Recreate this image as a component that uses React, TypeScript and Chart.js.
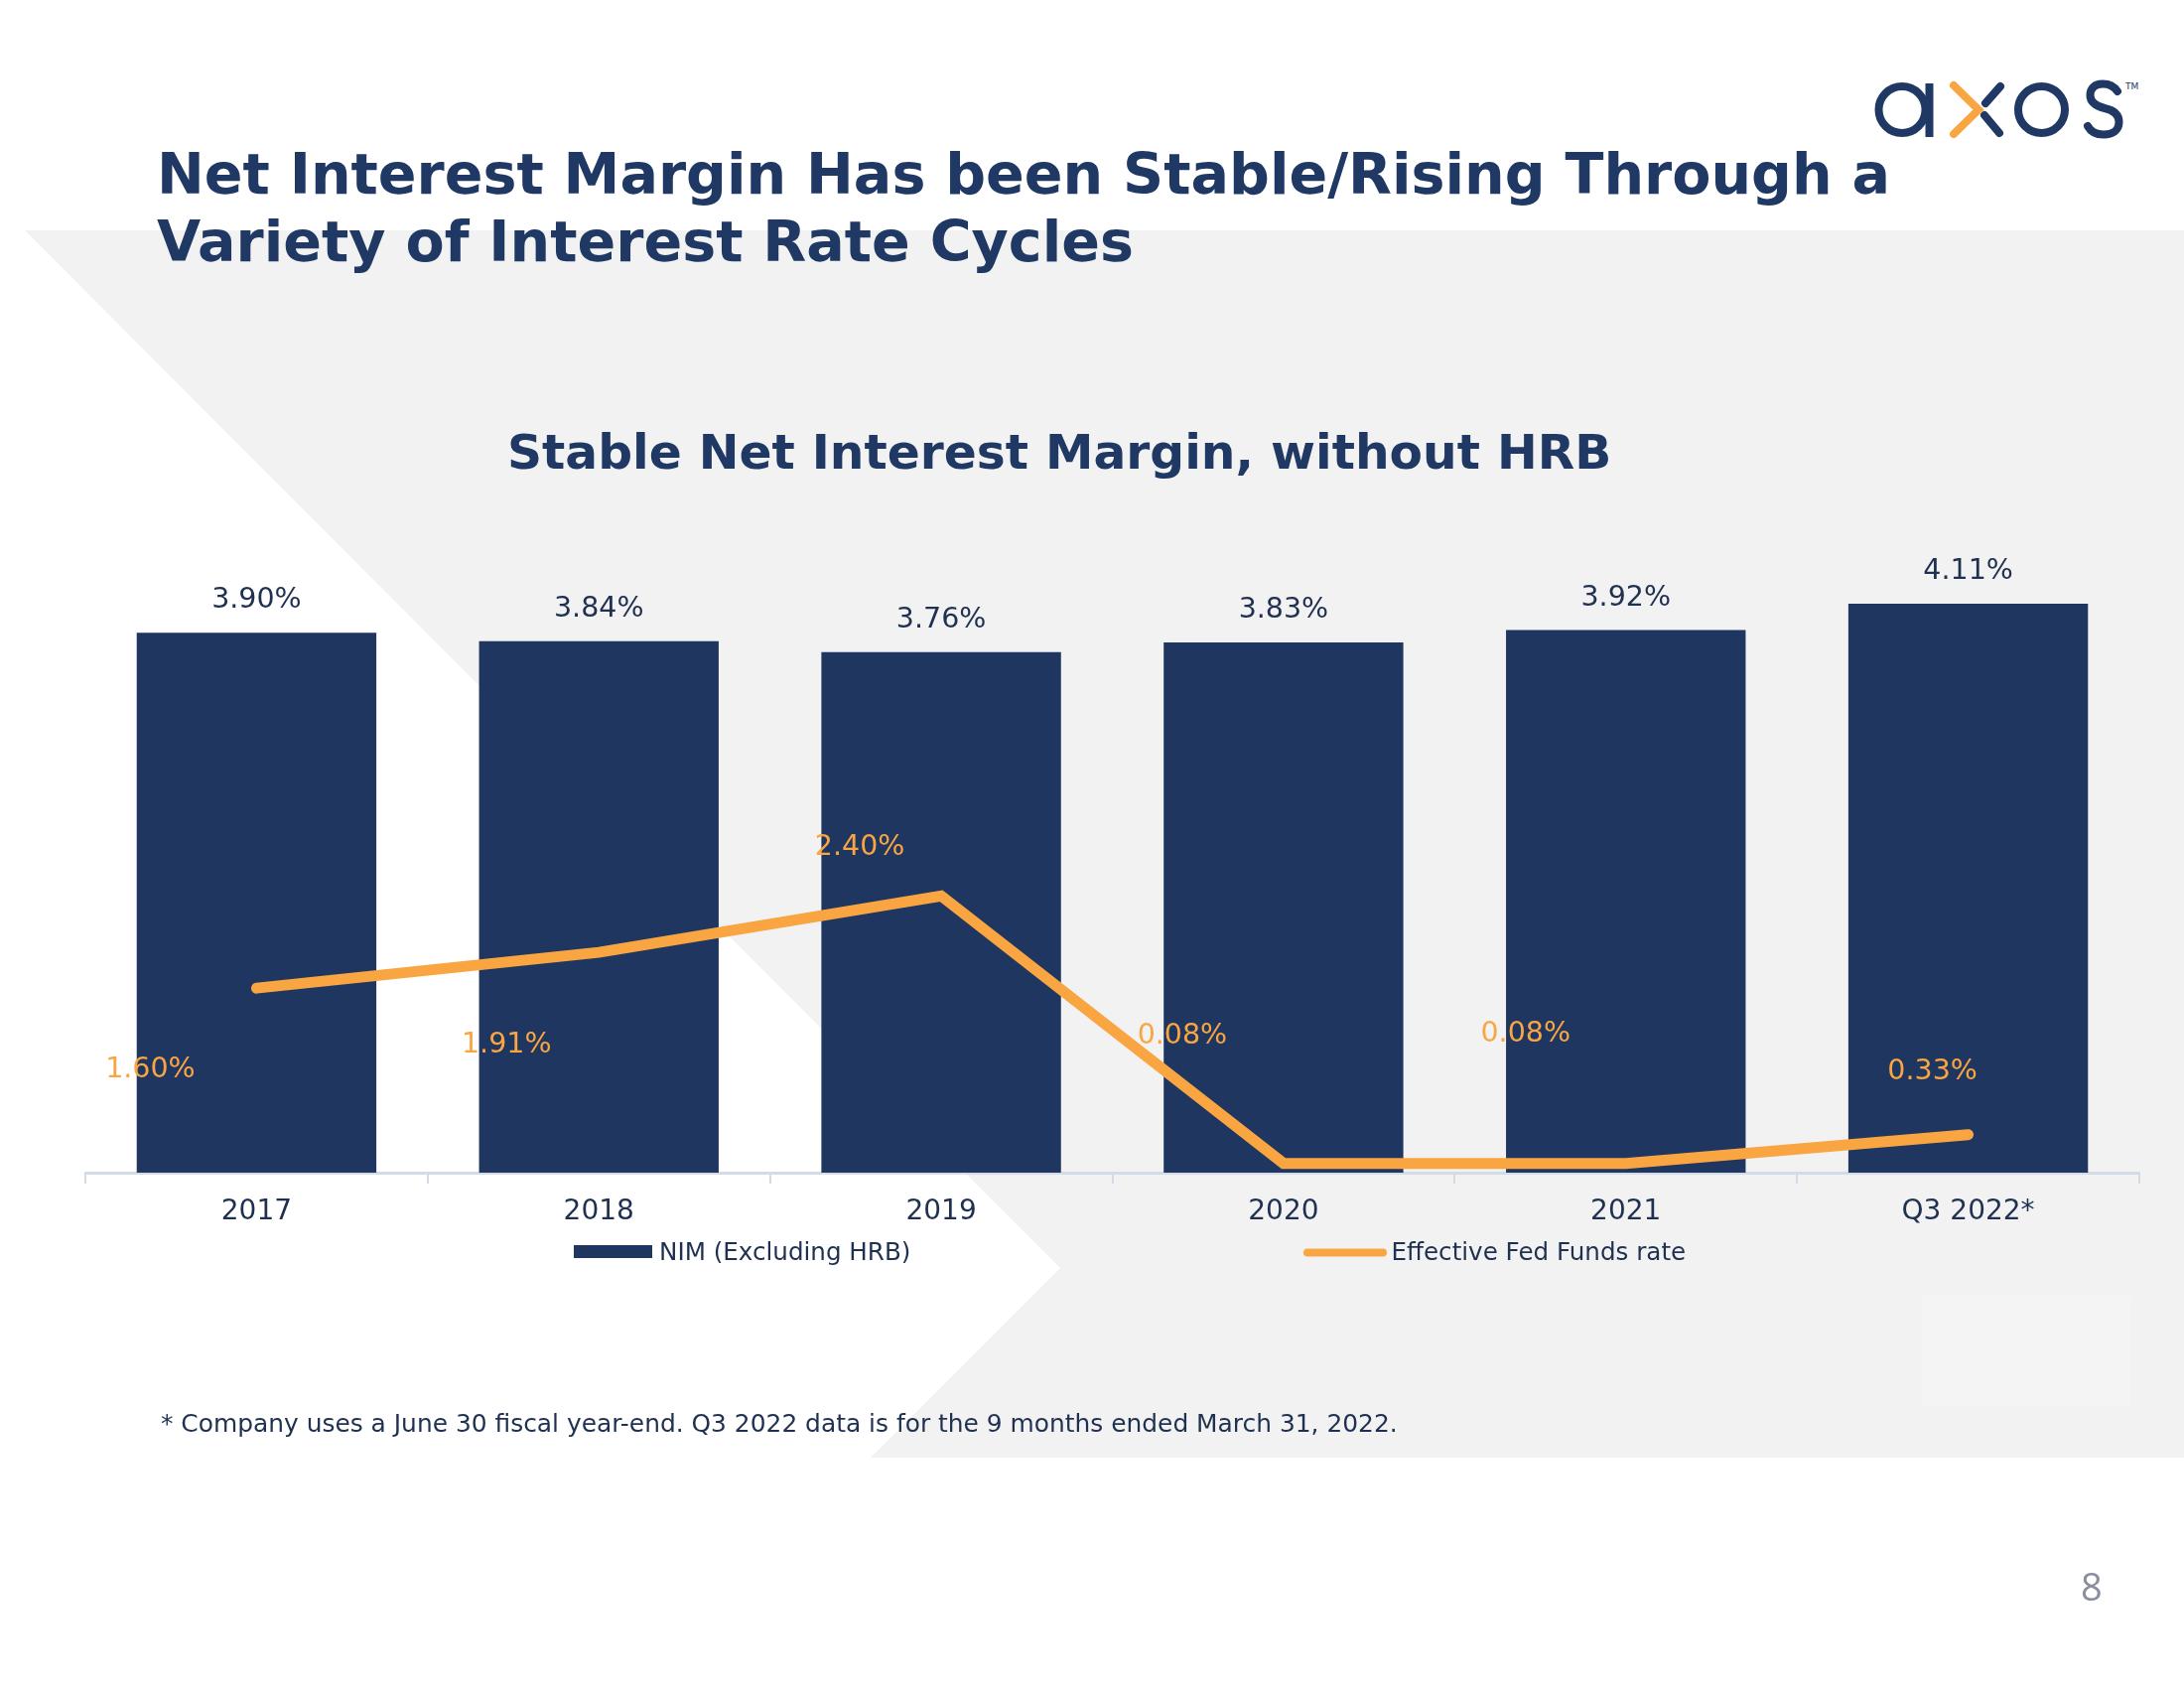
import React, { useEffect, useRef } from "react";
import { Chart, registerables } from "chart.js";

Chart.register(...registerables);

// ---------- data ----------
const categories = ["2017", "2018", "2019", "2020", "2021", "Q3 2022*"];
const nimValues = [3.9, 3.84, 3.76, 3.83, 3.92, 4.11];
const fedFundsValues = [1.6, 1.91, 2.4, 0.08, 0.08, 0.33];
const seriesNames = ["NIM (Excluding HRB)", "Effective Fed Funds rate"];

// ---------- style ----------
const FONT = '"DejaVu Sans", Verdana, sans-serif';
const NAVY = "#1F3864";
const BAR_NAVY = "#1F3760";
const TEXT_NAVY = "#1F3050";
const ORANGE = "#F9A541";
const AXIS = "#D3DAE8";
const GRAY_BG = "#F2F2F2";

// label offsets for line labels (center dx, baseline dy) relative to the point
const LINE_LABEL_OFFSETS: [number, number][] = [
  [-107, 90],
  [-93, 101],
  [-82, -41],
  [-102, -121],
  [-101, -123],
  [-36, -56],
];

const valueLabelPlugin = {
  id: "valueLabels",
  afterDatasetsDraw(chart: any) {
    const ctx = chart.ctx;
    ctx.save();
    ctx.font = `28.5px ${FONT}`;
    ctx.textAlign = "center";
    ctx.textBaseline = "alphabetic";
    chart.data.datasets.forEach((ds: any, di: number) => {
      const meta = chart.getDatasetMeta(di);
      meta.data.forEach((el: any, i: number) => {
        const v = ds.data[i] as number;
        const text = v.toFixed(2) + "%";
        if (ds.type === "bar") {
          ctx.fillStyle = TEXT_NAVY;
          ctx.fillText(text, el.x, el.y - 25);
        } else {
          const [dx, dy] = LINE_LABEL_OFFSETS[i];
          ctx.fillStyle = ORANGE;
          ctx.fillText(text, el.x + dx, el.y + dy);
        }
      });
    });
    ctx.restore();
  },
};

const legendPlugin = {
  id: "customLegend",
  afterDraw(chart: any) {
    const ctx = chart.ctx;
    const ds = chart.data.datasets;
    ctx.save();
    ctx.font = `24.6px ${FONT}`;
    ctx.textAlign = "left";
    ctx.textBaseline = "alphabetic";
    // item 1: bar swatch
    ctx.fillStyle = ds[0].backgroundColor;
    ctx.fillRect(578, 1254, 79, 13);
    ctx.fillStyle = TEXT_NAVY;
    ctx.fillText(ds[0].label, 664, 1268.5);
    // item 2: line swatch
    ctx.strokeStyle = ds[1].borderColor;
    ctx.lineWidth = 8;
    ctx.lineCap = "round";
    ctx.beginPath();
    ctx.moveTo(1317, 1261.5);
    ctx.lineTo(1393, 1261.5);
    ctx.stroke();
    ctx.fillStyle = TEXT_NAVY;
    ctx.fillText(ds[1].label, 1401.5, 1268.5);
    ctx.restore();
  },
};

function Txt(props: {
  x: number;
  baseline: number;
  size: number;
  weight?: number | string;
  color: string;
  family?: string;
  asc?: number;
  desc?: number;
  children: React.ReactNode;
}) {
  const { x, baseline, size, weight = 400, color, family = FONT, asc = 0.928, desc = 0.236 } = props;
  const L = Math.round(size * 1.3);
  const top = baseline - ((L - (asc + desc) * size) / 2 + asc * size);
  return (
    <div
      style={{
        position: "absolute",
        left: x,
        top,
        fontSize: size,
        lineHeight: L + "px",
        fontWeight: weight as any,
        color,
        fontFamily: family,
        whiteSpace: "nowrap",
      }}
    >
      {props.children}
    </div>
  );
}

function ChartCanvas() {
  const ref = useRef<HTMLCanvasElement | null>(null);
  useEffect(() => {
    if (!ref.current) return;
    const chart = new Chart(ref.current, {
      type: "bar",
      data: {
        labels: categories,
        datasets: [
          {
            type: "bar",
            label: seriesNames[0],
            data: nimValues,
            backgroundColor: BAR_NAVY,
            borderWidth: 0,
            categoryPercentage: 0.7,
            barPercentage: 1.0,
            yAxisID: "y",
            order: 2,
          } as any,
          {
            type: "line",
            label: seriesNames[1],
            data: fedFundsValues,
            borderColor: ORANGE,
            backgroundColor: ORANGE,
            borderWidth: 11,
            borderCapStyle: "round",
            borderJoinStyle: "miter",
            pointRadius: 0,
            tension: 0,
            fill: false,
            yAxisID: "y1",
            order: 1,
          } as any,
        ],
      },
      options: {
        animation: false,
        responsive: false,
        maintainAspectRatio: false,
        devicePixelRatio: 1,
        layout: { padding: { top: 484, left: 86, right: 45, bottom: 1700 - 1181 - 80 } },
        plugins: {
          legend: { display: false },
          tooltip: { enabled: false },
          title: { display: false },
        },
        scales: {
          x: {
            type: "category",
            offset: true,
            grid: {
              offset: true,
              drawOnChartArea: false,
              drawTicks: true,
              tickLength: 11,
              color: AXIS,
              lineWidth: 2,
            },
            border: { display: true, color: AXIS, width: 3 },
            ticks: {
              color: TEXT_NAVY,
              font: { family: FONT, size: 28 },
              padding: 12,
              maxRotation: 0,
              autoSkip: false,
            },
            afterFit: (scale: any) => {
              scale.height = 80;
            },
          },
          y: { display: false, min: 0, max: 5 },
          y1: { display: false, min: 0, max: 6, position: "right" },
        },
      } as any,
      plugins: [valueLabelPlugin, legendPlugin],
    });
    return () => chart.destroy();
  }, []);
  return (
    <canvas
      ref={ref}
      width={2200}
      height={1700}
      style={{ position: "absolute", left: 0, top: 0, width: 2200, height: 1700 }}
    />
  );
}

export default function App() {
  return (
    <div
      style={{
        position: "absolute",
        left: 0,
        top: 0,
        width: 2200,
        height: 1700,
        background: "#FFFFFF",
        overflow: "hidden",
      }}
    >
      <svg width={2200} height={1700} style={{ position: "absolute", left: 0, top: 0 }}>
        <polygon points="25,232 2200,232 2200,1468 877,1468 1068,1277" fill={GRAY_BG} />
        <rect x={1936} y={1305} width={211} height={112} fill="#F4F4F4" />
        {/* logo */}
        <g fill="none" stroke={NAVY} strokeWidth={8}>
          <circle cx={1916} cy={110.5} r={23.5} />
          <line x1={1943.5} y1={84} x2={1943.5} y2={138} />
          <circle cx={2056.5} cy={110.5} r={23.5} />
          <line x1={2000} y1={104} x2={2015} y2={87} strokeLinecap="round" />
          <line x1={1999} y1={116} x2={2014} y2={134} strokeLinecap="round" />
          <path
            d="M2133 92 C2129 86 2124 84.5 2118 84.5 C2110 84.5 2105.5 89 2105.5 96 C2105.5 104 2112 107 2120 109 C2129 111 2134.5 115 2134.5 123 C2134.5 131 2128 135.5 2119 135.5 C2112 135.5 2106 132.5 2103 127"
            strokeLinecap="round"
          />
        </g>
        <polyline
          points="1968,86 1993,110.5 1968,135"
          fill="none"
          stroke={ORANGE}
          strokeWidth={8}
          strokeLinecap="round"
          strokeLinejoin="miter"
        />
        <text x={2141} y={90} fontSize={9} fill={NAVY} fontFamily={FONT}>
          TM
        </text>
      </svg>

      <ChartCanvas />

      <Txt x={158} baseline={195} size={57.1} weight={700} color={NAVY}>
        Net Interest Margin Has been Stable/Rising Through a
      </Txt>
      <Txt x={158} baseline={263} size={57.1} weight={700} color={NAVY}>
        Variety of Interest Rate Cycles
      </Txt>
      <Txt x={511} baseline={472} size={48.7} weight={700} color={NAVY}>
        Stable Net Interest Margin, without HRB
      </Txt>
      <Txt x={162} baseline={1443} size={24.9} color={TEXT_NAVY}>
        * Company uses a June 30 fiscal year-end. Q3 2022 data is for the 9 months ended March 31, 2022.
      </Txt>
      <Txt x={2096} baseline={1612} size={38} color="#8A8F9C" family='"Open Sans", sans-serif' asc={1.069} desc={0.293}>
        8
      </Txt>
    </div>
  );
}
